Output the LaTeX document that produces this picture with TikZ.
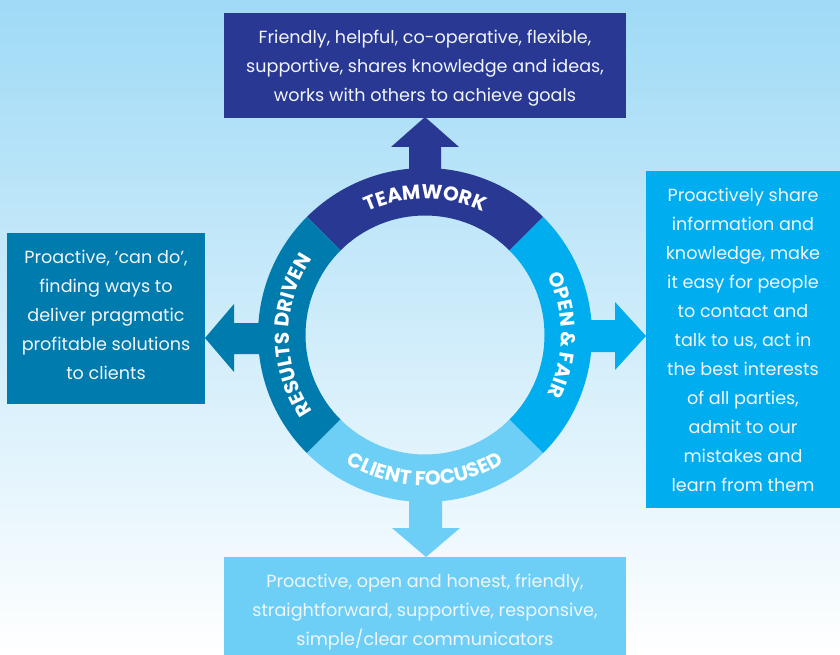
\documentclass[tikz,border=0pt]{standalone}
\usepackage{fontspec}
\setmainfont{Poppins}
\usetikzlibrary{decorations.text}
\definecolor{cTeam}{HTML}{293993}
\definecolor{cRes}{HTML}{007BAD}
\definecolor{cOpen}{HTML}{00AEEF}
\definecolor{cClient}{HTML}{6DCFF6}
\definecolor{bgTop}{HTML}{9FDAF6}
\definecolor{bgMid}{HTML}{CFECFA}
\definecolor{txt}{HTML}{F2F5F8}
\newcommand{\ringfont}{\fontsize{20}{22}\selectfont\bfseries}
\tikzset{
  boxshape/.style={inner sep=0pt},
  infotext/.style={inner sep=0pt, text=txt, align=center,
    font=\fontsize{17.6}{29}\selectfont},
  ringtext/.style={decorate, decoration={text along path, text align=center,
    text={|\ringfont\color{white}|#1}}}
}
\begin{document}
\begin{tikzpicture}[x=1pt,y=1pt]
\useasboundingbox (0,0) rectangle (840,-655);
\shade[top color=bgTop, middle color=bgMid, bottom color=white] (0,0) rectangle (840,-655);
\coordinate (C) at (425,-335);
% arrows
\fill[cTeam] (409,-180) -- (409,-147) -- (391,-147) -- (425,-117) -- (459,-147) -- (441,-147) -- (441,-180) -- cycle;
\fill[cOpen] (580,-320) -- (615,-320) -- (615,-302) -- (646,-336) -- (615,-370) -- (615,-352) -- (580,-352) -- cycle;
\fill[cRes] (270,-323) -- (234,-323) -- (234,-304) -- (205,-338) -- (234,-372) -- (234,-354) -- (270,-354) -- cycle;
\fill[cClient] (409,-490) -- (409,-528) -- (392,-528) -- (426,-557) -- (460,-528) -- (442,-528) -- (442,-490) -- cycle;
% ring
\fill[cTeam] ([shift={(45:167pt)}]C) arc[start angle=45, end angle=135, radius=167pt]
  -- ([shift={(135:119.5pt)}]C) arc[start angle=135, end angle=45, radius=119.5pt] -- cycle;
\fill[cRes] ([shift={(135:167pt)}]C) arc[start angle=135, end angle=225, radius=167pt]
  -- ([shift={(225:119.5pt)}]C) arc[start angle=225, end angle=135, radius=119.5pt] -- cycle;
\fill[cClient] ([shift={(225:167pt)}]C) arc[start angle=225, end angle=315, radius=167pt]
  -- ([shift={(315:119.5pt)}]C) arc[start angle=315, end angle=225, radius=119.5pt] -- cycle;
\fill[cOpen] ([shift={(315:167pt)}]C) arc[start angle=315, end angle=405, radius=167pt]
  -- ([shift={(45:119.5pt)}]C) arc[start angle=405, end angle=315, radius=119.5pt] -- cycle;
% ring labels
\path[ringtext=TEAMWORK] ([shift={(135:136pt)}]C) arc[start angle=135, end angle=45, radius=136pt];
\path[ringtext=RESULTS DRIVEN] ([shift={(225:136pt)}]C) arc[start angle=225, end angle=135, radius=136pt];
\path[ringtext=OPEN {\&} FAIR] ([shift={(45:136pt)}]C) arc[start angle=45, end angle=-45, radius=136pt];
\path[ringtext=CLIENT FOCUSED] ([shift={(225:150.5pt)}]C) arc[start angle=225, end angle=315, radius=150.5pt];
% boxes
\node[boxshape, fill=cTeam, minimum width=402pt, minimum height=105pt] (team) at (425,-65.5) {};
\node[infotext] (teamtext) at (425,-68.5)
  {Friendly, helpful, co-operative, flexible,\\ supportive, shares knowledge and ideas,\\ works with others to achieve goals};
\node[boxshape, fill=cRes, minimum width=198pt, minimum height=171pt] (res) at (106,-318.5) {};
\node[infotext] (restext) at (106,-315)
  {Proactive, ‘can do’,\\ finding ways to\\ deliver pragmatic\\ profitable solutions\\ to clients};
\node[boxshape, fill=cOpen, minimum width=194pt, minimum height=337pt] (open) at (743,-339.5) {};
\node[infotext] (opentext) at (743,-340)
  {Proactively share\\ information and\\ knowledge, make\\ it easy for people\\ to contact and\\ talk to us, act in\\ the best interests\\ of all parties,\\ admit to our\\ mistakes and\\ learn from them};
\node[boxshape, fill=cClient, minimum width=402pt, minimum height=98pt] (client) at (425,-606) {};
\node[infotext] (clienttext) at (425,-612)
  {Proactive, open and honest, friendly,\\ straightforward, supportive, responsive,\\ simple/clear communicators};
\end{tikzpicture}
\end{document}
